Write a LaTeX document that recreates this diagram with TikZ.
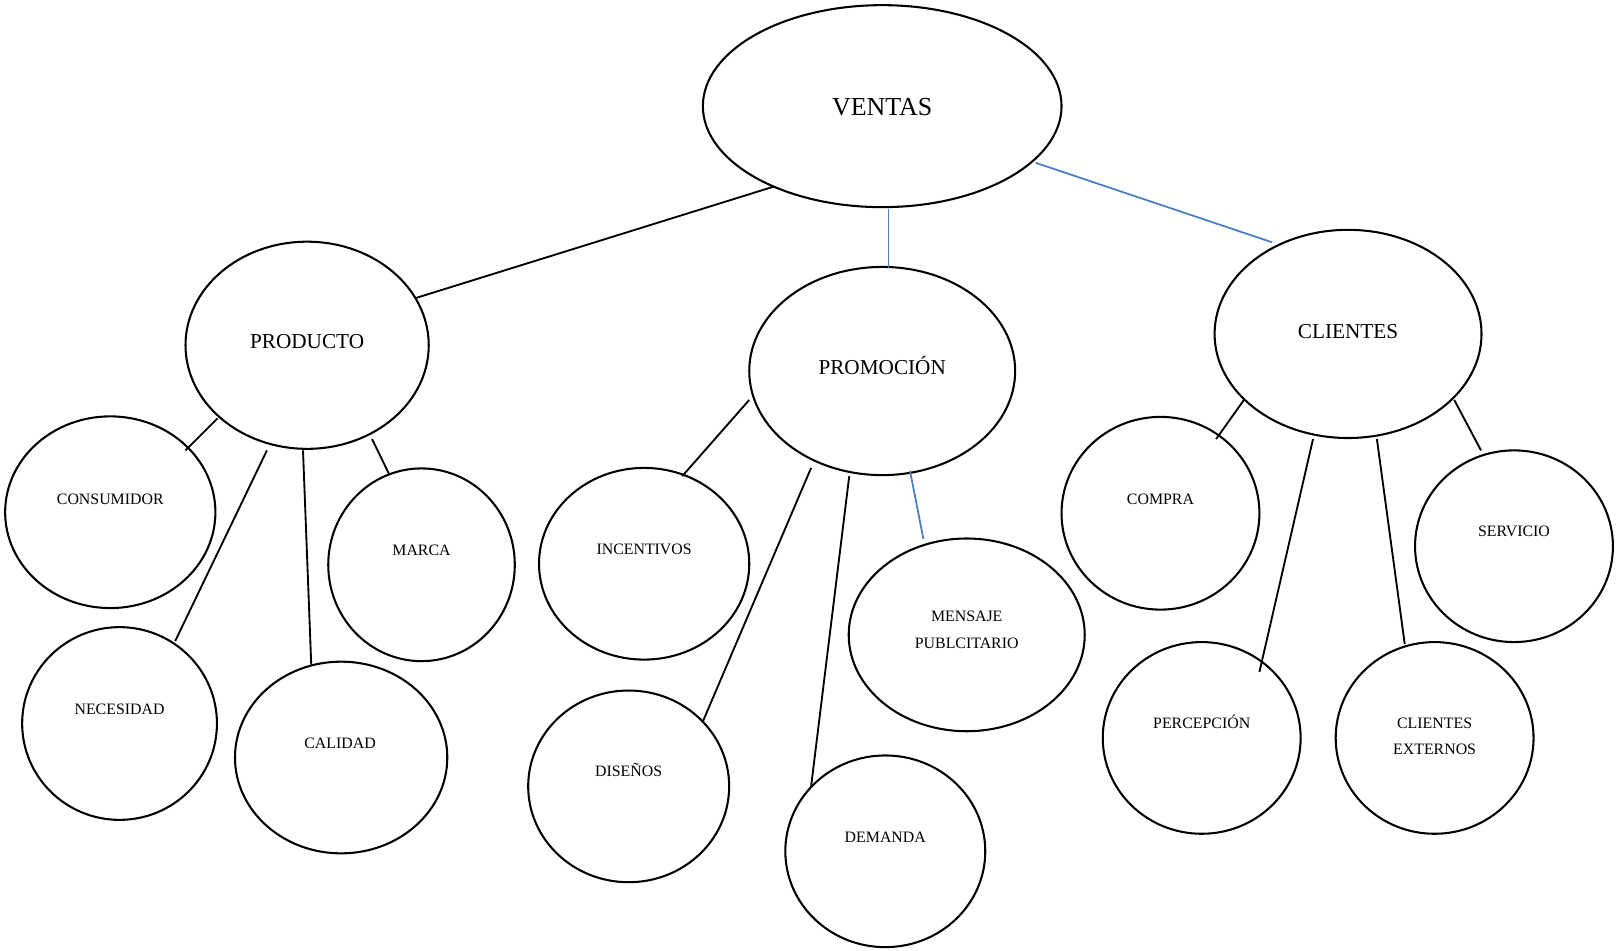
\documentclass[tikz,border=0pt]{standalone}
\usepackage{fontspec}
\setmainfont{Liberation Serif}
\usetikzlibrary{shapes.geometric}
\definecolor{linkblue}{RGB}{74,126,196}
\tikzset{
  bubble/.style={draw=black, line width=1pt, ellipse, inner sep=0pt},
  word/.style={inner sep=0pt, text height=0.68em, text depth=0pt},
  twoline/.style={inner sep=0pt, align=center},
  small/.style={font=\fontsize{7.7}{13}\selectfont},
  mid/.style={font=\fontsize{10.3}{12}\selectfont},
  big/.style={font=\fontsize{12.6}{15}\selectfont},
  link/.style={line width=0.9pt, draw=black},
  bluelink/.style={line width=0.85pt, draw=linkblue},
}
\begin{document}
\begin{tikzpicture}[x=0.5pt, y=-0.5pt]
\useasboundingbox (0,0) rectangle (1568,922);

% ---- ellipses ----
\node[bubble, minimum width=174pt, minimum height=98pt]   (ventas)     at (856,103) {};
\node[bubble, minimum width=118pt, minimum height=100.5pt] (producto)  at (298,335) {};
\node[bubble, minimum width=129pt, minimum height=101pt]  (promocion)  at (856,360) {};
\node[bubble, minimum width=129.5pt, minimum height=101pt] (clientes)  at (1308,324) {};
\node[bubble, minimum width=102pt, minimum height=93pt]   (consumidor) at (107,497) {};
\node[bubble, minimum width=90.5pt, minimum height=93.5pt] (marca)     at (409,548) {};
\node[bubble, minimum width=94.5pt, minimum height=93.5pt] (necesidad) at (116,702) {};
\node[bubble, minimum width=103pt, minimum height=93pt]   (calidad)    at (331,735) {};
\node[bubble, minimum width=102pt, minimum height=93pt]   (incentivos) at (625,547) {};
\node[bubble, minimum width=97.5pt, minimum height=93pt]  (disenos)    at (610,763) {};
\node[bubble, minimum width=97pt, minimum height=93pt]    (demanda)    at (859,826) {};
\node[bubble, minimum width=114.5pt, minimum height=93.5pt] (mensaje)  at (938,616) {};
\node[bubble, minimum width=96pt, minimum height=93.5pt]  (compra)     at (1126,498) {};
\node[bubble, minimum width=96pt, minimum height=93pt]    (servicio)   at (1469,530) {};
\node[bubble, minimum width=96pt, minimum height=93pt]    (percepcion) at (1166,716) {};
\node[bubble, minimum width=96pt, minimum height=93pt]    (externos)   at (1392,716) {};

% ---- labels ----
\node[word, big] (ventas-t)     at (856,105) {VENTAS};
\node[word, mid] (producto-t)   at (298,331) {PRODUCTO};
\node[word, mid] (promocion-t)  at (856,357) {PROMOCIÓN};
\node[word, mid] (clientes-t)   at (1308,322) {CLIENTES};
\node[word, small] (consumidor-t) at (107,483) {CONSUMIDOR};
\node[word, small] (marca-t)      at (409,532) {MARCA};
\node[word, small] (necesidad-t)  at (116,686) {NECESIDAD};
\node[word, small] (calidad-t)    at (330,719) {CALIDAD};
\node[word, small] (incentivos-t) at (625,531) {INCENTIVOS};
\node[word, small] (disenos-t)    at (610,747) {DISEÑOS};
\node[word, small] (demanda-t)    at (859,811) {DEMANDA};
\node[twoline, small] (mensaje-t) at (938,611) {MENSAJE\\PUBLCITARIO};
\node[word, small] (compra-t)     at (1126,483) {COMPRA};
\node[word, small] (servicio-t)   at (1469,514) {SERVICIO};
\node[word, small] (percepcion-t) at (1166,700) {PERCEPCIÓN};
\node[twoline, small] (externos-t) at (1392,714.5) {CLIENTES\\EXTERNOS};

% ---- connectors ----
\draw[link]     ([shift={(-105,78)}]ventas.center)  -- ([shift={(106,-46)}]producto.center);
\draw[bluelink] ([shift={(6,100)}]ventas.center)    -- ([shift={(6,-100)}]promocion.center);
\draw[bluelink] ([shift={(149,55)}]ventas.center)   -- ([shift={(-74,-89)}]clientes.center);

\draw[link] ([shift={(-87,71)}]producto.center)  -- ([shift={(73,-60)}]consumidor.center);
\draw[link] ([shift={(-39,102)}]producto.center) -- ([shift={(54,-80)}]necesidad.center);
\draw[link] ([shift={(-4,102)}]producto.center)  -- ([shift={(-29,-90)}]calidad.center);
\draw[link] ([shift={(63,91)}]producto.center)   -- ([shift={(-31,-87)}]marca.center);

\draw[link] ([shift={(-129,28)}]promocion.center) -- ([shift={(37,-85)}]incentivos.center);
\draw[link] ([shift={(-69,94)}]promocion.center)  -- ([shift={(72,-63)}]disenos.center);
\draw[link] ([shift={(-32,102)}]promocion.center) -- ([shift={(-72,-63)}]demanda.center);
\draw[bluelink] ([shift={(27,97)}]promocion.center) -- ([shift={(-42,-93)}]mensaje.center);

\draw[link] ([shift={(-101,64)}]clientes.center) -- ([shift={(54,-72)}]compra.center);
\draw[link] ([shift={(-34,102)}]clientes.center) -- ([shift={(56,-64)}]percepcion.center);
\draw[link] ([shift={(28,102)}]clientes.center)  -- ([shift={(-29,-91)}]externos.center);
\draw[link] ([shift={(103,64)}]clientes.center)  -- ([shift={(-32,-93)}]servicio.center);
\end{tikzpicture}
\end{document}
